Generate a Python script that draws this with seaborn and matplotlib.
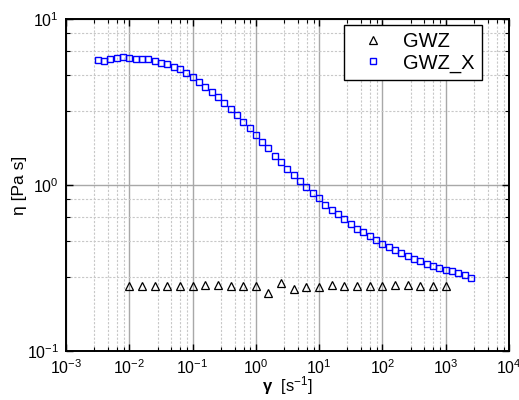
import numpy as np
import pandas as pd
import seaborn as sns
import matplotlib
matplotlib.use("Agg")
import matplotlib.pyplot as plt
from matplotlib.ticker import FixedLocator, LogFormatterSciNotation, NullFormatter

# Shear rate [1/s] and viscosity [Pa s] for the two samples
gwz_rate = [0.0100, 0.0158, 0.0251, 0.0398, 0.0631,
            0.100, 0.158, 0.251, 0.398, 0.631,
            1.00, 1.58, 2.51, 3.98, 6.31,
            10.0, 15.8, 25.1, 39.8, 63.1,
            100, 158, 251, 398, 631, 1000]
gwz_eta = [0.245, 0.248, 0.247, 0.247, 0.247,
           0.247, 0.249, 0.249, 0.246, 0.246,
           0.246, 0.223, 0.256, 0.236, 0.244,
           0.244, 0.249, 0.247, 0.247, 0.247,
           0.247, 0.249, 0.249, 0.247, 0.247, 0.247]

gwzx_rate = [0.00316, 0.00398, 0.00501, 0.00631, 0.00794,
             0.0100, 0.0126, 0.0158, 0.0200, 0.0251, 0.0316, 0.0398, 0.0501, 0.0631, 0.0794,
             0.100, 0.126, 0.158, 0.200, 0.251, 0.316, 0.398, 0.501, 0.631, 0.794,
             1.00, 1.26, 1.58, 2.00, 2.51, 3.16, 3.98, 5.01, 6.31, 7.94,
             10.0, 12.6, 15.8, 20.0, 25.1, 31.6, 39.8, 50.1, 63.1, 79.4,
             100, 126, 158, 200, 251, 316, 398, 501, 631, 794,
             1000, 1260, 1580, 2000, 2510]
gwzx_eta = [5.66, 5.61, 5.77, 5.80, 5.87,
            5.80, 5.75, 5.78, 5.71, 5.57, 5.46, 5.33, 5.16, 4.98, 4.73,
            4.46, 4.19, 3.91, 3.64, 3.38, 3.12, 2.87, 2.64, 2.40, 2.20,
            2.00, 1.82, 1.66, 1.50, 1.37, 1.25, 1.15, 1.05, 0.968, 0.900,
            0.830, 0.759, 0.707, 0.665, 0.621, 0.582, 0.545, 0.519, 0.493, 0.466,
            0.443, 0.423, 0.404, 0.388, 0.372, 0.360, 0.347, 0.334, 0.327, 0.316,
            0.309, 0.303, 0.297, 0.288, 0.277]

series_names = ["GWZ", "GWZ_X"]

sns.set_theme(style="white")
plt.rcParams["font.family"] = ["Liberation Sans", "DejaVu Sans"]
plt.rcParams["mathtext.fontset"] = "custom"
plt.rcParams["mathtext.rm"] = "Liberation Sans"
plt.rcParams["mathtext.it"] = "Liberation Sans:italic"
plt.rcParams["mathtext.bf"] = "Liberation Sans:bold"
plt.rcParams["text.color"] = "black"
plt.rcParams["axes.labelcolor"] = "black"

fig = plt.figure(figsize=(5.19, 4.00), dpi=100)
ax = fig.add_axes([66 / 519, 1 - 351 / 400, 443 / 519, 332 / 400])

df_gwz = pd.DataFrame({"rate": gwz_rate, "eta": gwz_eta})
df_gwzx = pd.DataFrame({"rate": gwzx_rate, "eta": gwzx_eta})

sns.lineplot(data=df_gwz, x="rate", y="eta", ax=ax, estimator=None, sort=False,
             linestyle="", marker="^", markersize=5.6, color="black",
             markerfacecolor="none", markeredgecolor="black", markeredgewidth=0.9,
             label=series_names[0], zorder=4)
sns.lineplot(data=df_gwzx, x="rate", y="eta", ax=ax, estimator=None, sort=False,
             linestyle="", marker="s", markersize=4.8, color="#0000ff",
             markerfacecolor="none", markeredgecolor="#0000ff", markeredgewidth=1.0,
             label=series_names[1], zorder=4)

ax.set_xscale("log")
ax.set_yscale("log")
ax.set_xlim(1e-3, 1e4)
ax.set_ylim(1e-1, 1e1)

# Decade ticks plus four evenly spaced minor ticks per decade
x_major = [10.0 ** e for e in range(-3, 5)]
y_major = [10.0 ** e for e in range(-1, 2)]
minor_steps = [2.8, 4.6, 6.4, 8.2]
x_minor = [m * 10.0 ** e for e in range(-3, 4) for m in minor_steps]
y_minor = [m * 10.0 ** e for e in range(-1, 1) for m in minor_steps]
ax.xaxis.set_major_locator(FixedLocator(x_major))
ax.yaxis.set_major_locator(FixedLocator(y_major))
ax.xaxis.set_minor_locator(FixedLocator(x_minor))
ax.yaxis.set_minor_locator(FixedLocator(y_minor))
ax.xaxis.set_major_formatter(LogFormatterSciNotation())
ax.yaxis.set_major_formatter(LogFormatterSciNotation())
ax.xaxis.set_minor_formatter(NullFormatter())
ax.yaxis.set_minor_formatter(NullFormatter())

ax.grid(True, which="major", color="#a8a8a8", linewidth=1.0, linestyle="-", zorder=0)
ax.grid(True, which="minor", color="#c8c8c8", linewidth=0.8, linestyle=(0, (2, 1.5)), zorder=0)
ax.set_axisbelow(True)

ax.tick_params(which="both", direction="in", top=True, right=True, bottom=True, left=True,
               colors="black", labelsize=11.5)
ax.tick_params(which="major", length=5, width=1.0, pad=5)
ax.tick_params(which="minor", length=3, width=0.8)
for s in ax.spines.values():
    s.set_color("black")
    s.set_linewidth(1.4)

ax.set_ylabel("η [Pa s]", fontsize=12.5, color="black")
ax.yaxis.set_label_coords(-0.088, 0.5)
ax.set_xlabel(r"$\mathbf{\gamma}$  [s$^{\mathdefault{-1}}$]", fontsize=12, labelpad=-2, color="black")

leg = ax.legend(loc="upper right", bbox_to_anchor=(0.939, 0.982), borderaxespad=0,
                fontsize=14.5, frameon=True, fancybox=False, framealpha=1,
                edgecolor="black", handlelength=2.2, handletextpad=0.4,
                borderpad=0.35, labelspacing=0.12, markerscale=1.0)
leg.get_frame().set_linewidth(1.0)
for t in leg.get_texts():
    t.set_color("black")

fig.savefig("out.png", dpi=100)
